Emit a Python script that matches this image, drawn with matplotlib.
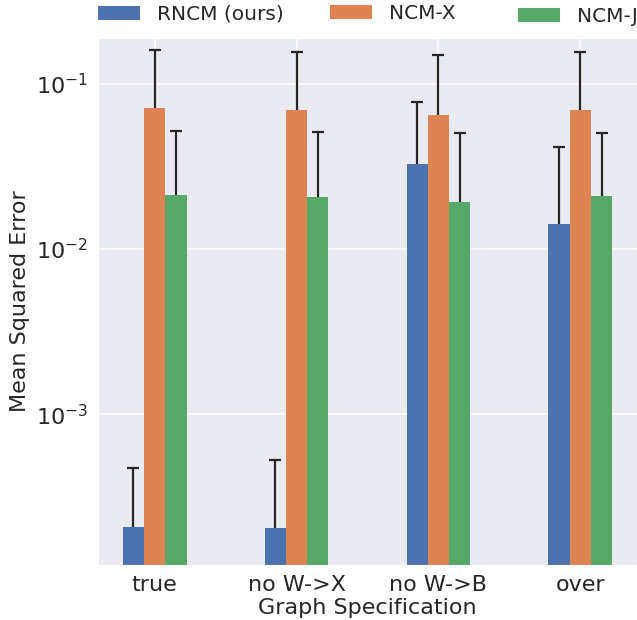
import matplotlib
matplotlib.use("Agg")
import matplotlib.pyplot as plt
import numpy as np
import seaborn as sns

# ─────────────────────────────────────────────
# Donnees
# ─────────────────────────────────────────────
specs = ["true", "no W->X", "no W->B", "over"]
models = ["RNCM (ours)", "NCM-X", "NCM-J"]

mse_rncm = [2.07e-4, 2.04e-4, 0.0327, 0.0142]
mse_ncmx = [0.0716, 0.0696, 0.0649, 0.0696]
mse_ncmj = [0.0212, 0.0207, 0.0193, 0.0210]

# haut des barres d'erreur
top_rncm = [4.7e-4, 5.3e-4, 0.0778, 0.0415]
top_ncmx = [0.160, 0.156, 0.150, 0.156]
top_ncmj = [0.0519, 0.0513, 0.0505, 0.0505]

sns.set_style("darkgrid")
plt.rcParams["font.family"] = ["DejaVu Sans"]

colors = sns.color_palette("deep")[:3]

W, H = 637, 620
fig = plt.figure(figsize=(W / 100, H / 100), dpi=100)
ax = fig.add_axes([98 / W, 55 / H, 539 / W, 527 / H])

x = np.arange(len(specs))
width = 0.15
series = [(mse_rncm, top_rncm), (mse_ncmx, top_ncmx), (mse_ncmj, top_ncmj)]

handles = []
for i, ((vals, tops), name) in enumerate(zip(series, models)):
    vals = np.array(vals)
    tops = np.array(tops)
    xpos = x + (i - 1) * width
    bars = ax.bar(xpos, vals, width, color=colors[i], label=name, linewidth=0)
    handles.append(bars)
    # erreur vers le haut seulement (pas de cap en bas)
    ax.vlines(xpos, vals, tops, color="#262626", linewidth=1.6, zorder=3)
    ax.plot(xpos, tops, ls="none", marker="_", ms=8, mew=1.6,
            color="#262626", zorder=3)

ax.set_yscale("log")
ax.set_ylim(1.22e-4, 0.19)
ax.set_xlim(-0.4, 3.4)
ax.set_xticks(x)
ax.set_xticklabels(specs)
ax.tick_params(labelsize=16, pad=4)
ax.set_xlabel("Graph Specification", fontsize=16, labelpad=2)
ax.set_ylabel("Mean Squared Error", fontsize=16)
ax.grid(True, which="major", color="white", linewidth=1.2)
ax.grid(False, which="minor")

# une entree de legende par serie, placees comme sur l'original
legend_pos = [(98, 14.5), (330, 13.5), (518, 16.5)]
for h, name, (px, py) in zip(handles, models, legend_pos):
    fig.legend([h], [name], loc="center left",
               bbox_to_anchor=(px / W, 1 - py / H),
               frameon=False, fontsize=14.5, handlelength=2.08,
               handletextpad=0.87, borderpad=0, borderaxespad=0)

fig.savefig("out.png", dpi=100)
